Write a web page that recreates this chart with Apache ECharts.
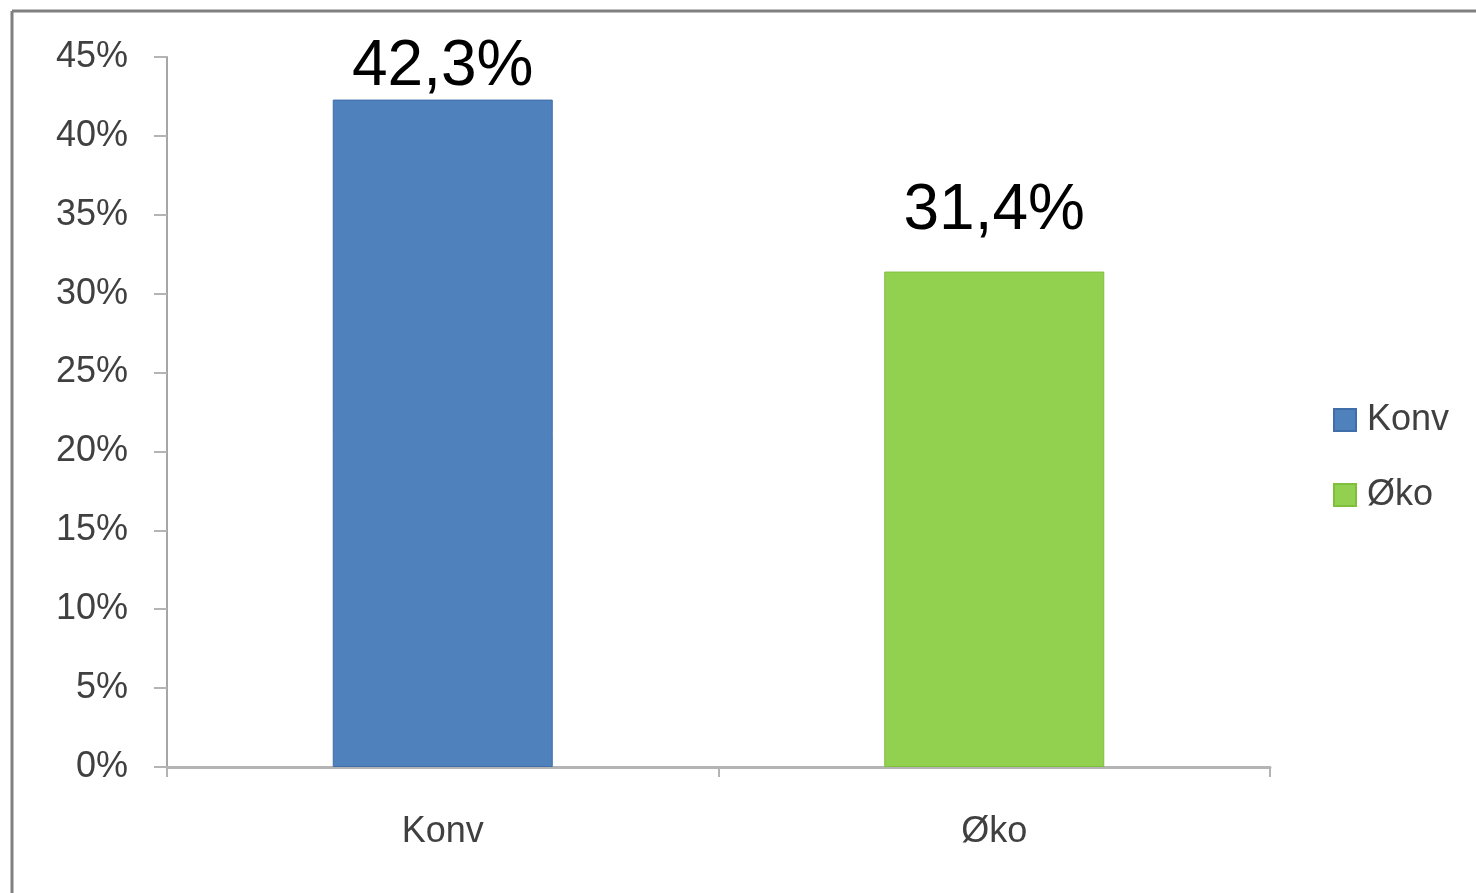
<!DOCTYPE html>
<html>
<head>
<meta charset="utf-8">
<script src="https://cdn.jsdelivr.net/npm/echarts@6/dist/echarts.min.js"></script>
<style>
  html, body { margin: 0; padding: 0; background: #fff; }
  #chart { width: 1476px; height: 893px; }
</style>
</head>
<body>
<div id="chart"></div>
<script>
// kategorier og verdier (prosent)
const categories = ['Konv', 'Øko']
const konvValues = [42.3, null]
const okoValues = [null, 31.4]
const seriesNames = ['Konv', 'Øko']

const font = 'Liberation Sans'
const pct = v => v.toFixed(1).replace('.', ',') + '%'

const labelStyle = {
  show: true,
  position: 'top',
  distance: 0,
  color: '#000',
  fontFamily: font,
  fontSize: 64,
  formatter: p => pct(p.value)
}

const myChart = echarts.init(document.getElementById('chart'))
const option = {
  animation: false,
  textStyle: { fontFamily: font },
  // rammen rundt figuren
  graphic: [
    { type: 'line', shape: { x1: 12, y1: 11, x2: 1476, y2: 11 }, style: { stroke: '#808080', lineWidth: 3 } },
    { type: 'line', shape: { x1: 12, y1: 11, x2: 12, y2: 893 }, style: { stroke: '#808080', lineWidth: 3 } }
  ],
  grid: { left: 167, right: 206, top: 57, bottom: 126 },
  legend: {
    orient: 'vertical',
    left: 1328,
    top: 397,
    itemWidth: 22,
    itemHeight: 22,
    itemGap: 39,
    icon: 'rect',
    textStyle: { fontFamily: font, fontSize: 36, color: '#404040', padding: [0, 0, 0, 6] },
    data: seriesNames
  },
  xAxis: {
    type: 'category',
    data: categories,
    axisLine: { lineStyle: { color: '#b4b4b4', width: 3 } },
    axisTick: { show: true, alignWithLabel: false, length: 10, lineStyle: { color: '#b4b4b4', width: 2 } },
    axisLabel: { fontFamily: font, fontSize: 36, color: '#404040', margin: 47 }
  },
  yAxis: {
    type: 'value',
    min: 0,
    max: 45,
    interval: 5,
    splitLine: { show: false },
    axisLine: { show: true, lineStyle: { color: '#a6a6a6', width: 2 } },
    axisTick: { show: true, length: 13, lineStyle: { color: '#b4b4b4', width: 2 } },
    axisLabel: { fontFamily: font, fontSize: 36, color: '#404040', margin: 39, formatter: '{value}%' }
  },
  series: [
    {
      name: seriesNames[0],
      type: 'bar',
      stack: 'total',
      barWidth: 220,
      data: konvValues,
      itemStyle: { color: '#4F81BD', borderColor: '#3f6ea8', borderWidth: 1 },
      label: labelStyle
    },
    {
      name: seriesNames[1],
      type: 'bar',
      stack: 'total',
      barWidth: 220,
      data: okoValues,
      itemStyle: { color: '#92D050', borderColor: '#7fbf3c', borderWidth: 1 },
      // etiketten står litt høyere over søylen i originalen
      label: Object.assign({}, labelStyle, { distance: 28 })
    }
  ]
}
myChart.setOption(option, true)
</script>
</body>
</html>
